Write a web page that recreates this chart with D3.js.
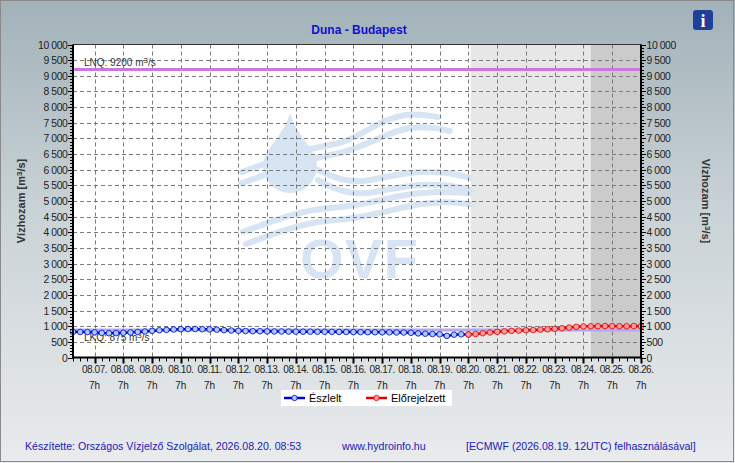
<!DOCTYPE html>
<html><head><meta charset="utf-8">
<script src="https://cdn.jsdelivr.net/npm/d3@7"></script>
<style>
html,body{margin:0;padding:0;background:#fff;}
svg{display:block;font-family:"Liberation Sans",Arial,sans-serif;}
</style></head>
<body>
<svg id="chart" width="735" height="463"></svg>
<script>
// ---- data ----
const title = "Duna - Budapest";
const obsStart = "2026-08-06T13:00";   // first observation, 6-hourly
const stepHours = 6;
const obsValues = [820,815,812,805,785,775,780,790,800,815,830,850,870,882,895,905,910,910,905,900,890,875,862,852,845,840,838,835,832,830,828,826,825,824,822,821,820,818,815,812,810,808,806,805,803,800,798,790,770,760,750,740,690,730,740,735];
const fcStart = "2026-08-20T07:00";
const fcValues = [735,750,775,800,820,835,850,860,870,878,890,900,915,935,955,980,995,1000,1000,1005,1005,1000,1000,1005,1000];
const lnq = 9200, lkq = 875;
const yTicks = [0,500,1000,1500,2000,2500,3000,3500,4000,4500,5000,5500,6000,6500,7000,7500,8000,8500,9000,9500,10000];
const dayLabels = ["08.07.","08.08.","08.09.","08.10.","08.11.","08.12.","08.13.","08.14.","08.15.","08.16.","08.17.","08.18.","08.19.","08.20.","08.21.","08.22.","08.23.","08.24.","08.25.","08.26."];
const fcShadeStart = "2026-08-20T08:53", fcShade2Start = "2026-08-24T13:00";
const footer = ["Készítette: Országos Vízjelző Szolgálat, 2026.08.20. 08:53","www.hydroinfo.hu","[ECMWF (2026.08.19. 12UTC) felhasználásával]"];
const yLabel = "Vízhozam [m";

// ---- layout ----
const W=735,H=463, L=73, R=641, T=44.5, B=357.5;
const svg=d3.select("#chart");
const parse = s=>new Date(s);
const t0=parse(obsStart);
const x=d3.scaleTime().domain([t0, parse("2026-08-26T07:00")]).range([L,R]);
const y=d3.scaleLinear().domain([0,10000]).range([B,T]);
const HOUR=3600e3;
const obs=obsValues.map((v,i)=>({t:new Date(+t0+i*stepHours*HOUR),v}));
const fc=fcValues.map((v,i)=>({t:new Date(+parse(fcStart)+i*stepHours*HOUR),v}));

// background
const defs=svg.append("defs");
const g1=defs.append("linearGradient").attr("id","bg").attr("x1",0).attr("y1",0).attr("x2",0).attr("y2",1);
g1.append("stop").attr("offset",0).attr("stop-color","#a2b2b9");
g1.append("stop").attr("offset",0.45).attr("stop-color","#c9d2d6");
g1.append("stop").attr("offset",1).attr("stop-color","#e9ebed");
svg.append("rect").attr("width",W).attr("height",H).attr("fill","url(#bg)");
svg.append("rect").attr("x",0.5).attr("y",0.5).attr("width",W-2).attr("height",H-2).attr("fill","none").attr("stroke","#8a8a8a");

// plot backgrounds
svg.append("rect").attr("x",L).attr("y",T).attr("width",R-L).attr("height",B-T).attr("fill","#fff");
svg.append("rect").attr("x",x(parse(fcShadeStart))).attr("y",T).attr("width",x(parse(fcShade2Start))-x(parse(fcShadeStart))).attr("height",B-T).attr("fill","#e7e7e7");
svg.append("rect").attr("x",x(parse(fcShade2Start))).attr("y",T).attr("width",R-x(parse(fcShade2Start))).attr("height",B-T).attr("fill","#cbcbcb");

// watermark logo
const wm=svg.append("g").attr("fill","#d6e4f3").attr("stroke","#d6e4f3");
wm.append("path").attr("stroke","none").attr("d","M290,113 C284,135 263,150 263,166 A27,27 0 0 0 317,166 C317,150 296,135 290,113 Z");
const waves=[
 "M242,172 C275,160 300,150 330,145 C360,140 375,120 405,115 C420,113 430,116 438,117",
 "M242,183 C275,172 300,160 335,154 C365,148 385,132 410,128 C430,126 440,129 450,131",
 "M318,170 C335,178 350,184 370,180 C400,174 430,166 470,178",
 "M318,180 C335,190 352,196 375,192 C405,186 435,180 470,190",
 "M243,232 C270,222 300,210 330,208 C360,206 380,200 400,196 C430,190 450,192 470,193",
 "M246,244 C275,233 305,222 335,220 C365,218 390,210 410,206 C440,200 455,203 470,204"];
wm.selectAll("path.w").data(waves).enter().append("path").attr("class","w").attr("fill","none").attr("stroke-width",6).attr("stroke-linecap","round").attr("d",d=>d);
wm.append("text").attr("x",359).attr("y",278).attr("text-anchor","middle").attr("stroke","none").attr("font-size",56).attr("font-weight","bold").attr("font-family","Liberation Sans, Arial").attr("textLength",118).text("OVF");

// grid
const days=dayLabels.map((d,i)=>new Date(+parse("2026-08-07T07:00")+i*24*HOUR));
const grid=svg.append("g").attr("stroke","#7a7a7a").attr("stroke-dasharray","4,3").attr("stroke-width",1);
grid.selectAll("line.h").data(yTicks.filter(v=>v>0&&v<10000)).enter().append("line").attr("x1",L).attr("x2",R).attr("y1",d=>Math.round(y(d))+0.5).attr("y2",d=>Math.round(y(d))+0.5);
grid.selectAll("line.v").data(days.slice(0,-1)).enter().append("line").attr("y1",T).attr("y2",B).attr("x1",d=>Math.round(x(d))+0.5).attr("x2",d=>Math.round(x(d))+0.5);

// threshold lines
svg.append("line").attr("x1",L).attr("x2",R).attr("y1",y(lkq)).attr("y2",y(lkq)).attr("stroke","#b4a8ee").attr("stroke-width",3);
svg.append("line").attr("x1",L).attr("x2",R).attr("y1",y(lnq)).attr("y2",y(lnq)).attr("stroke","#cc77dd").attr("stroke-width",3);
function qLabel(txt,val,yy){
  const t=svg.append("text").attr("x",84).attr("y",yy).attr("font-size",10).attr("fill","#333");
  t.append("tspan").text(txt+": "+val+"  m");
  t.append("tspan").attr("dy",-3).attr("font-size",8).text("3");
  t.append("tspan").attr("dy",3).text("/s");
}
qLabel("LNQ",lnq,y(lnq)-4);
qLabel("LKQ",lkq,y(lkq)+11);

// series
const line=d3.line().x(d=>x(d.t)).y(d=>y(d.v));
function series(data,col,fill){
  svg.append("path").datum(data).attr("d",line).attr("fill","none").attr("stroke",col).attr("stroke-width",2.5);
  svg.append("g").selectAll("circle").data(data).enter().append("circle").attr("cx",d=>x(d.t)).attr("cy",d=>y(d.v)).attr("r",2.8).attr("fill",fill).attr("stroke",col).attr("stroke-width",0.8);
}
series(obs,"#0000d0","#a6cdf7");
series(fc,"#e00000","#ff9a9a");

// axes
const fmt=v=>d3.format(",")(v).replace(/,/g," ");
const minorY=d3.range(0,10001,100);
function yAxis(xPos,dir){
  const g=svg.append("g");
  g.selectAll("line.mi").data(minorY).enter().append("line").attr("x1",xPos).attr("x2",xPos+dir*3).attr("y1",d=>Math.round(y(d))+0.5).attr("y2",d=>Math.round(y(d))+0.5).attr("stroke","#000");
  g.selectAll("line.ma").data(yTicks).enter().append("line").attr("x1",xPos).attr("x2",xPos+dir*5).attr("y1",d=>Math.round(y(d))+0.5).attr("y2",d=>Math.round(y(d))+0.5).attr("stroke","#000");
  g.selectAll("text").data(yTicks).enter().append("text").attr("x",xPos+dir*5.5).attr("y",d=>y(d)+4).attr("text-anchor",dir<0?"end":"start").attr("font-size",10.4).attr("letter-spacing",-0.4).attr("fill","#222").text(fmt);
  g.append("line").attr("x1",xPos).attr("x2",xPos).attr("y1",T).attr("y2",B+1).attr("stroke","#000").attr("stroke-width",2);
}
svg.append("line").attr("x1",L).attr("x2",R).attr("y1",T).attr("y2",T).attr("stroke","#333").attr("stroke-width",1);
yAxis(L,-1); yAxis(R,1);
const minorX=d3.range(0,80).map(i=>new Date(+t0+i*6*HOUR)).filter(d=>d<=x.domain()[1]);
const xa=svg.append("g");
xa.selectAll("line.mi").data(minorX).enter().append("line").attr("x1",d=>Math.round(x(d))+0.5).attr("x2",d=>Math.round(x(d))+0.5).attr("y1",B).attr("y2",B+4).attr("stroke","#000");
xa.selectAll("line.ma").data(days).enter().append("line").attr("x1",d=>Math.round(x(d))+0.5).attr("x2",d=>Math.round(x(d))+0.5).attr("y1",B).attr("y2",B+6).attr("stroke","#000").attr("stroke-width",2);
xa.append("line").attr("x1",L-1).attr("x2",R+1).attr("y1",B).attr("y2",B).attr("stroke","#000").attr("stroke-width",2);
xa.selectAll("text.d").data(days).enter().append("text").attr("x",d=>x(d)).attr("y",373).attr("text-anchor","middle").attr("font-size",10).attr("letter-spacing",-0.45).attr("fill","#222").text((d,i)=>dayLabels[i]);
xa.selectAll("text.h").data(days).enter().append("text").attr("x",d=>x(d)).attr("y",389).attr("text-anchor","middle").attr("font-size",10).attr("fill","#222").text("7h");

// title
svg.append("text").attr("x",359).attr("y",34).attr("text-anchor","middle").attr("font-size",12).attr("font-weight","bold").attr("fill","#1010d0").text(title);

// y labels
function yl(xp,rot){
  const t=svg.append("text").attr("transform",`translate(${xp},201) rotate(${rot})`).attr("text-anchor","middle").attr("font-size",11).attr("font-weight","bold").attr("fill","#333");
  t.append("tspan").text(yLabel);
  t.append("tspan").attr("dy",-3).attr("font-size",8).text("3");
  t.append("tspan").attr("dy",3).text("/s]");
}
yl(25,-90); yl(702,90);

// info icon
svg.append("rect").attr("x",693).attr("y",10).attr("width",20).attr("height",20).attr("rx",3).attr("fill","#1e3f9a");
svg.append("text").attr("x",703).attr("y",27).attr("text-anchor","middle").attr("font-size",18).attr("font-weight","bold").attr("font-family","Liberation Serif, serif").attr("fill","#fff").text("i");

// legend
const lg=svg.append("g");
lg.append("rect").attr("x",281).attr("y",390).attr("width",171).attr("height",16).attr("fill","#fff");
[[obs,"Észlelt","#0000d0","#a6cdf7",284],[fc,"Előrejelzett","#e00000","#ff9a9a",366]].forEach(([d,lab,col,fill,x0])=>{
  lg.append("line").attr("x1",x0).attr("x2",x0+21).attr("y1",398).attr("y2",398).attr("stroke",col).attr("stroke-width",2.5);
  lg.append("circle").attr("cx",x0+10.5).attr("cy",398).attr("r",2.7).attr("fill",fill).attr("stroke",col).attr("stroke-width",0.8);
  lg.append("text").attr("x",x0+25).attr("y",402).attr("font-size",11).attr("fill","#000").text(lab);
});

// footer
const fx=[25,342,466];
svg.selectAll("text.f").data(footer).enter().append("text").attr("x",(d,i)=>fx[i]).attr("y",450).attr("font-size",10.6).attr("fill","#2020bb").text(d=>d);
</script>
</body></html>
